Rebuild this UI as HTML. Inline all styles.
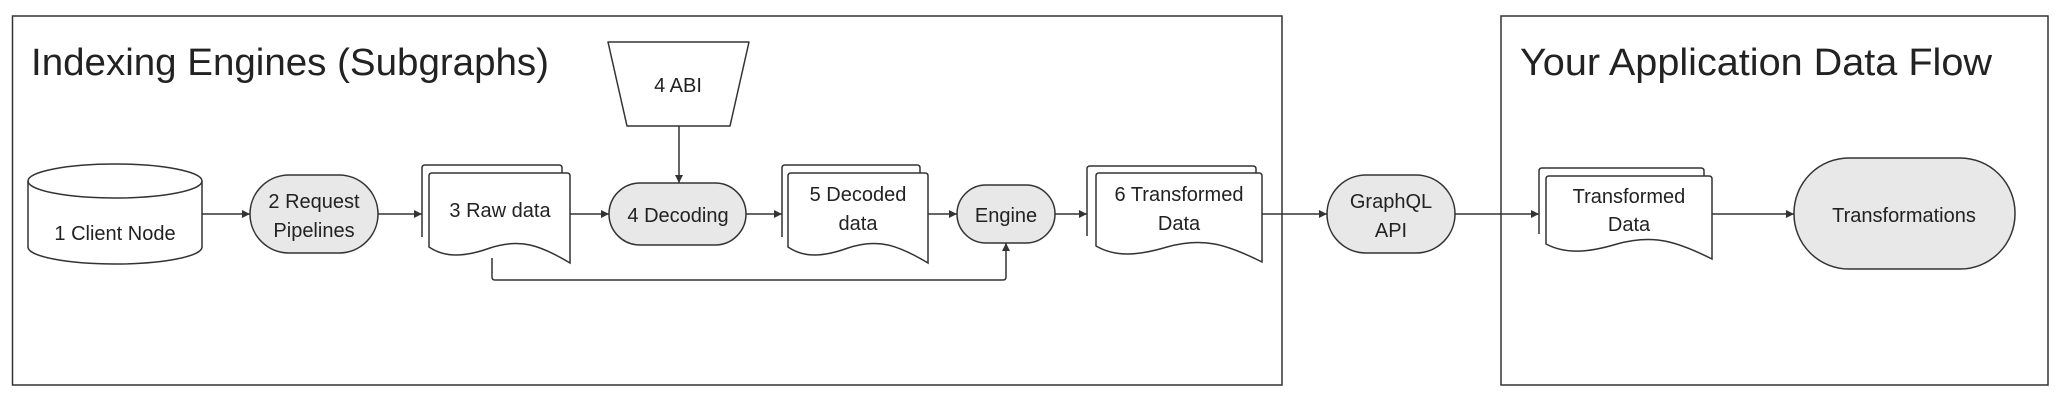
<!DOCTYPE html>
<html><head><meta charset="utf-8"><style>html,body{margin:0;padding:0;background:#fff}svg{display:block}</style></head>
<body>
<svg width="2061" height="402" viewBox="0 0 2061 402" xmlns="http://www.w3.org/2000/svg" font-family="'Liberation Sans', sans-serif" fill="none" stroke="#333" stroke-width="1.5">
<defs>
<marker id="a" viewBox="0 0 10 10" refX="10" refY="5" markerWidth="8" markerHeight="8" markerUnits="userSpaceOnUse" orient="auto"><path d="M0,0L10,5L0,10z" fill="#333" stroke="none"/></marker>
</defs>
<rect x="12.5" y="16" width="1269.5" height="369" fill="#fff"/>
<rect x="1501" y="16" width="547" height="369" fill="#fff"/>
<g fill="#222" stroke="none">
<text x="31" y="75" font-size="38" textLength="518" lengthAdjust="spacingAndGlyphs">Indexing Engines (Subgraphs)</text>
<text x="1520" y="75" font-size="38" textLength="472" lengthAdjust="spacingAndGlyphs">Your Application Data Flow</text>
</g>
<!-- cylinder -->
<path d="M28,181 A87,17 0 0 1 202,181 V247 A87,17 0 0 1 28,247 Z" fill="#fff"/>
<path d="M28,181 A87,17 0 0 0 202,181"/>
<!-- stadiums -->
<rect x="250" y="175" width="128" height="78" rx="39" fill="#e8e8e8"/>
<rect x="609" y="183" width="137" height="62" rx="31" fill="#e8e8e8"/>
<rect x="957" y="185" width="98" height="58" rx="29" fill="#e8e8e8"/>
<rect x="1327" y="175" width="128" height="78" rx="39" fill="#e8e8e8"/>
<rect x="1794" y="158" width="221" height="111" rx="55" fill="#e8e8e8"/>
<!-- ABI trapezoid -->
<path d="M608,42 H749 L730,126 H627 Z" fill="#fff" stroke-linejoin="round"/>
<!-- docs -->
<path d="M422,237 V168 Q422,165 425,165 H559 Q562,165 562,168 V180" fill="#fff"/>
<path d="M429,247 V176 Q429,173 432,173 H567 Q570,173 570,176 V263 C540,245 520,238 490,248 C465,257 445,258 429,247 Z" fill="#fff"/>
<path d="M782,237 V168 Q782,165 785,165 H917 Q920,165 920,168 V180" fill="#fff"/>
<path d="M788,247 V176 Q788,173 791,173 H925 Q928,173 928,176 V263 C898,245 878,238 848,248 C823,257 804,258 788,247 Z" fill="#fff"/>
<path d="M1087,236 V169 Q1087,166 1090,166 H1253 Q1256,166 1256,169 V180" fill="#fff"/>
<path d="M1096,246 V176 Q1096,173 1099,173 H1259 Q1262,173 1262,176 V262 C1226,244 1203,237 1167,247 C1137,256 1115,257 1096,246 Z" fill="#fff"/>
<path d="M1539,234 V171 Q1539,168 1542,168 H1701 Q1704,168 1704,171 V183" fill="#fff"/>
<path d="M1546,244 V179 Q1546,176 1549,176 H1709 Q1712,176 1712,179 V259 C1676,241 1653,234 1617,244 C1587,253 1565,254 1546,244 Z" fill="#fff"/>
<!-- connectors -->
<g marker-end="url(#a)">
<path d="M202,214 H250"/>
<path d="M378,214 H422"/>
<path d="M570,214 H609"/>
<path d="M679,126 V183"/>
<path d="M746,214 H782"/>
<path d="M928,214 H957"/>
<path d="M1055,214 H1087"/>
<path d="M1262,214 H1327"/>
<path d="M1455,214 H1539"/>
<path d="M1712,214 H1794"/>
<path d="M492,258 V277 Q492,280 495,280 H1003 Q1006,280 1006,277 V243"/>
</g>
<g fill="#222" stroke="none" font-size="20" text-anchor="middle">
<text x="115" y="240">1 Client Node</text>
<text x="314" y="208">2 Request</text>
<text x="314" y="237">Pipelines</text>
<text x="500" y="217">3 Raw data</text>
<text x="678" y="92">4 ABI</text>
<text x="678" y="222">4 Decoding</text>
<text x="858" y="201">5 Decoded</text>
<text x="858" y="230">data</text>
<text x="1006" y="222">Engine</text>
<text x="1179" y="201">6 Transformed</text>
<text x="1179" y="230">Data</text>
<text x="1391" y="208">GraphQL</text>
<text x="1391" y="237">API</text>
<text x="1629" y="203">Transformed</text>
<text x="1629" y="231">Data</text>
<text x="1904" y="222">Transformations</text>
</g>
</svg>
</body></html>
